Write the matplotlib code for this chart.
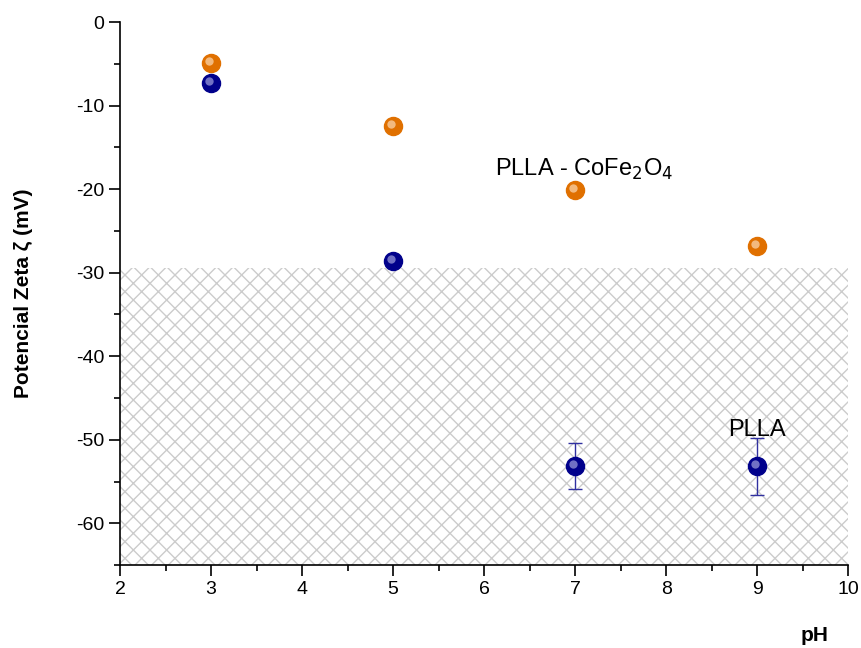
import matplotlib
matplotlib.use("Agg")
import matplotlib.pyplot as plt
from matplotlib.transforms import offset_copy
from matplotlib.ticker import MultipleLocator

plt.rcParams['font.family'] = ['Liberation Sans', 'DejaVu Sans']
plt.rcParams['hatch.linewidth'] = 1.0
plt.rcParams['axes.unicode_minus'] = False

ph = [3, 5, 7, 9]
zeta_composite = [-4.9, -12.4, -20.1, -26.8]
zeta_plla = [-7.3, -28.6, -53.1, -53.2]
err_plla = [0, 0, 2.75, 3.4]
unstable_limit = -29.5

orange = '#e07000'
navy = '#00008b'

fig = plt.figure(figsize=(8.61, 6.48), dpi=100)
ax = fig.add_axes([0.1394, 0.128, 0.8456, 0.838])

ax.axhspan(-65, unstable_limit, facecolor='white', edgecolor='#cccccc',
           hatch='xx', linewidth=0, zorder=0)

ax.errorbar(ph, zeta_plla, yerr=err_plla, fmt='none', ecolor='#3030a0',
            elinewidth=1, capsize=5, capthick=1, zorder=2)

def spheres(x, y, color, light):
    ax.plot(x, y, 'o', ms=13, color=color, mec=color, zorder=3)
    hl = offset_copy(ax.transData, fig=fig, x=-2, y=2, units='dots')
    ax.plot(x, y, 'o', ms=6, color=light, mec='none', alpha=0.7,
            transform=hl, zorder=4)

spheres(ph, zeta_composite, orange, '#fbd9b5')
spheres(ph, zeta_plla, navy, '#a0a0dd')

ax.text(7.1, -17.6, 'PLLA - CoFe$_2$O$_4$', fontsize=17, ha='center',
        va='center')
ax.text(9.0, -48.8, 'PLLA', fontsize=17, ha='center', va='center')

ax.set_xlim(2, 10)
ax.set_ylim(-65, 0)
ax.xaxis.set_major_locator(MultipleLocator(1))
ax.xaxis.set_minor_locator(MultipleLocator(0.5))
ax.yaxis.set_major_locator(MultipleLocator(10))
ax.yaxis.set_minor_locator(MultipleLocator(5))
ax.tick_params(which='major', direction='out', length=8, width=1.2,
               labelsize=14)
ax.tick_params(which='minor', direction='out', length=4, width=1.2)
for s in ['top', 'right']:
    ax.spines[s].set_visible(False)
for s in ['left', 'bottom']:
    ax.spines[s].set_linewidth(1.2)

ax.set_ylabel('Potencial Zeta ζ (mV)', fontsize=15, fontweight='bold')
ax.yaxis.set_label_coords(-0.12, 0.5)
fig.text(0.946, 0.005, 'pH', fontsize=15, fontweight='bold', ha='center',
         va='bottom')

fig.savefig('out.png', dpi=100)
